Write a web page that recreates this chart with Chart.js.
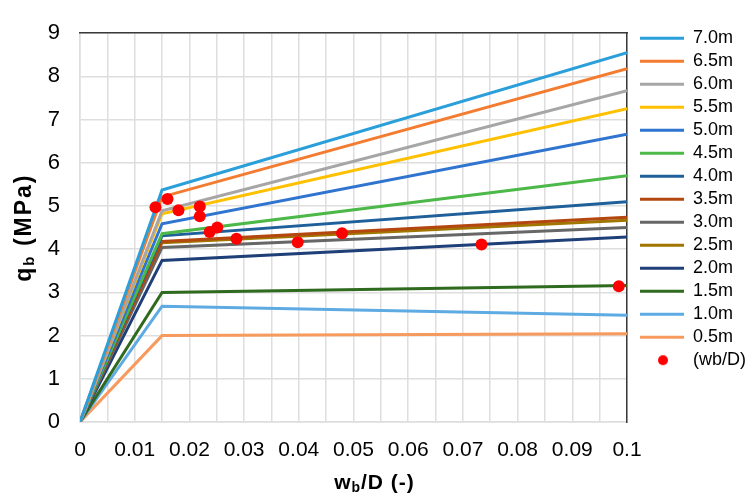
<!DOCTYPE html>
<html>
<head>
<meta charset="utf-8">
<script src="https://cdn.jsdelivr.net/npm/chart.js@4.4.0/dist/chart.umd.min.js"></script>
<style>
  html, body { margin: 0; padding: 0; background: #fff; }
  #wrap { width: 749px; height: 496px; }
</style>
</head>
<body>
<div id="wrap"><canvas id="chart"></canvas></div>
<script>
// pile length series, bilinear q_b curves (origin -> kink -> end)
const depthLabels = ['7.0m', '6.5m', '6.0m', '5.5m', '5.0m', '4.5m', '4.0m', '3.5m', '3.0m', '2.5m', '2.0m', '1.5m', '1.0m', '0.5m'];
const curveX = [0, 0.015, 0.1];
const qKink = [5.37, 5.21, 4.89, 4.82, 4.59, 4.36, 4.31, 4.18, 4.04, 4.15, 3.74, 3.00, 2.68, 2.00];
const qEnd = [8.55, 8.18, 7.67, 7.25, 6.66, 5.70, 5.10, 4.74, 4.50, 4.67, 4.28, 3.16, 2.47, 2.04];
const lineColors = ['#2b9fda', '#f47c30', '#a6a6a6', '#ffc000', '#2f74cf', '#4cb848', '#1f5f9a',
                    '#b3470f', '#676767', '#a07600', '#1f3f78', '#2e6b1f', '#5eaae2', '#f79a5e'];

// (wb/D) points
const wbLabel = '(wb/D)';
const wbX = [0.0138, 0.0160, 0.0180, 0.0219, 0.0219, 0.0237, 0.0251, 0.0286, 0.0398, 0.0479, 0.0734, 0.0985];
const wbY = [4.97, 5.16, 4.90, 4.99, 4.76, 4.40, 4.50, 4.24, 4.16, 4.37, 4.11, 3.14];

const xTickLabels = ['0', '0.01', '0.02', '0.03', '0.04', '0.05', '0.06', '0.07', '0.08', '0.09', '0.1'];
const yTicks = [0, 1, 2, 3, 4, 5, 6, 7, 8, 9];

const FONT = "'Liberation Sans', Arial, sans-serif";
const gridColor = '#dedede';
const frameColor = '#3a3a3a';

const datasets = depthLabels.map((label, i) => ({
    label: label,
    data: [
        { x: curveX[0], y: 0 },
        { x: curveX[1], y: qKink[i] },
        { x: curveX[2], y: qEnd[i] }
    ],
    showLine: true,
    borderColor: lineColors[i],
    backgroundColor: lineColors[i],
    borderWidth: 3,
    pointRadius: 0,
    pointStyle: 'line',
    tension: 0,
    order: 1
}));

datasets.push({
    label: wbLabel,
    data: wbX.map((x, i) => ({ x: x, y: wbY[i] })),
    showLine: false,
    pointRadius: 6,
    pointBackgroundColor: '#ff0000',
    pointBorderColor: '#ff0000',
    borderColor: '#ff0000',
    backgroundColor: '#ff0000',
    pointBorderWidth: 0,
    order: 0
});
const dotIndex = datasets.length - 1;

// legend icon for the dots (line-width box with a centred dot)
const dotIcon = document.createElement('canvas');
dotIcon.width = 44;
dotIcon.height = 12;
(function () {
    const c = dotIcon.getContext('2d');
    c.fillStyle = '#ff0000';
    c.beginPath();
    c.arc(23, 6, 5, 0, Math.PI * 2);
    c.fill();
})();

// axis titles with subscript b
function drawSubText(ctx, parts, cx, cy, spacing) {
    let total = 0;
    parts.forEach(p => {
        ctx.font = p.font;
        p.w = ctx.measureText(p.text).width + spacing * p.text.length;
        total += p.w;
    });
    let x = cx - total / 2;
    parts.forEach(p => {
        ctx.font = p.font;
        // draw char by char so the spacing works everywhere
        let cxp = x;
        for (const ch of p.text) {
            ctx.fillText(ch, cxp, cy + (p.dy || 0));
            cxp += ctx.measureText(ch).width + spacing;
        }
        x += p.w;
    });
}

const axisTitles = {
    id: 'axisTitles',
    afterDraw(chart) {
        const { ctx, chartArea } = chart;
        ctx.save();
        ctx.fillStyle = '#000';
        ctx.textBaseline = 'middle';
        ctx.textAlign = 'left';
        // x title
        drawSubText(ctx, [
            { text: 'w', font: 'bold 21px ' + FONT },
            { text: 'b', font: 'bold 14px ' + FONT, dy: 5 },
            { text: '/D (-)', font: 'bold 21px ' + FONT }
        ], (chartArea.left + chartArea.right) / 2 + 21, 483, 1);
        // y title
        ctx.translate(25, (chartArea.top + chartArea.bottom) / 2);
        ctx.rotate(-Math.PI / 2);
        drawSubText(ctx, [
            { text: 'q', font: 'bold 23px ' + FONT },
            { text: 'b', font: 'bold 15px ' + FONT, dy: 5 },
            { text: ' (MPa)', font: 'bold 23px ' + FONT }
        ], 0, 0, 2);
        ctx.restore();
    }
};

new Chart(document.getElementById('chart'), {
    type: 'scatter',
    data: { datasets: datasets },
    plugins: [axisTitles],
    options: {
        responsive: true,
        maintainAspectRatio: false,
        animation: false,
        layout: { padding: { top: 22, left: 0, right: 0, bottom: 0 } },
        plugins: {
            tooltip: { enabled: false },
            legend: {
                position: 'right',
                align: 'start',
                maxWidth: 114,
                title: { display: true, text: '', font: { size: 1 }, padding: { top: 1, bottom: 0 } },
                labels: {
                    font: { family: FONT, size: 18 },
                    color: '#000',
                    usePointStyle: true,
                    pointStyleWidth: 44,
                    padding: 5,
                    sort: (a, b) => a.datasetIndex - b.datasetIndex,
                    generateLabels(chart) {
                        const items = Chart.defaults.plugins.legend.labels.generateLabels(chart);
                        items.forEach(it => {
                            if (it.datasetIndex === dotIndex) {
                                it.pointStyle = dotIcon;
                            } else {
                                it.pointStyle = 'line';
                                it.lineWidth = 3;
                            }
                        });
                        return items;
                    }
                }
            }
        },
        scales: {
            x: {
                type: 'linear',
                min: 0,
                max: 0.1,
                grid: { color: gridColor, lineWidth: 1.5, drawTicks: false },
                border: { color: gridColor, width: 1.5 },
                ticks: {
                    stepSize: 0.005,
                    autoSkip: false,
                    maxRotation: 0,
                    padding: 16,
                    color: '#000',
                    font: { family: FONT, size: 21 },
                    callback: (v, i) => (i % 2 === 0 ? xTickLabels[i / 2] : '')
                },
                afterFit: s => { s.height = 74; }
            },
            y: {
                type: 'linear',
                min: yTicks[0],
                max: yTicks[yTicks.length - 1],
                grid: { color: gridColor, lineWidth: 1.5, drawTicks: false },
                border: { color: gridColor, width: 1.5 },
                ticks: {
                    stepSize: 1,
                    padding: 20,
                    color: '#000',
                    font: { family: FONT, size: 22 }
                },
                afterFit: s => { s.width = 80; }
            },
            x2: {
                type: 'linear',
                position: 'top',
                grid: { display: false, drawTicks: false },
                ticks: { display: false },
                border: { color: frameColor, width: 1.5 },
                afterFit: s => { s.height = 0; }
            },
            y2: {
                type: 'linear',
                position: 'right',
                grid: { display: false, drawTicks: false },
                ticks: { display: false },
                border: { color: frameColor, width: 1.5 },
                afterFit: s => { s.width = 8; }
            }
        }
    }
});
</script>
</body>
</html>
